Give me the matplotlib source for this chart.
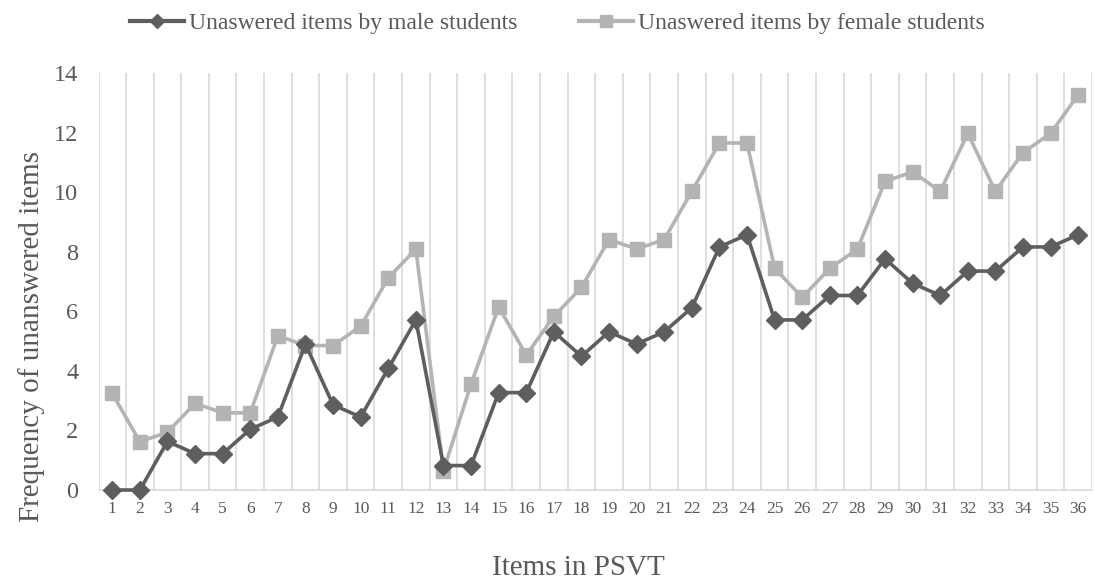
import numpy as np
import matplotlib as mpl
mpl.use("Agg")
import matplotlib.pyplot as plt
import matplotlib.lines as mlines

plt.rcParams["font.family"] = ["Liberation Serif", "DejaVu Serif"]

items = list(range(1, 37))
male = [0.00, 0.00, 1.63, 1.22, 1.22, 2.04, 2.45, 4.90, 2.86, 2.45,
        4.08, 5.71, 0.82, 0.82, 3.27, 3.27, 5.31, 4.49, 5.31, 4.90,
        5.31, 6.12, 8.16, 8.57, 5.71, 5.71, 6.53, 6.53, 7.76, 6.94,
        6.53, 7.35, 7.35, 8.16, 8.16, 8.57]
female = [3.24, 1.62, 1.94, 2.91, 2.59, 2.59, 5.18, 4.85, 4.85, 5.50,
          7.12, 8.09, 0.65, 3.56, 6.15, 4.53, 5.83, 6.80, 8.41, 8.09,
          8.41, 10.03, 11.65, 11.65, 7.44, 6.47, 7.44, 8.09, 10.36, 10.68,
          10.03, 11.97, 10.03, 11.33, 11.97, 13.27]

C_MALE = "#5e5e5e"
C_FEM = "#b4b4b4"
C_GRID = "#d9d9d9"
C_TXT = "#595959"

W, H = 1094, 586
fig = plt.figure(figsize=(W / 100, H / 100), dpi=100)
ax = fig.add_axes([98.5 / W, 1 - 490 / H, (1092 - 98.5) / W, (490 - 73) / H])

# category gridlines between items
for b in np.arange(0.5, 37, 1):
    ax.axvline(b, color=C_GRID, lw=1.2, zorder=0)

ax.plot(items, female, "-s", color=C_FEM, lw=2.6, ms=10.5, zorder=2, clip_on=False)
ax.plot(items, male, "-D", color=C_MALE, lw=2.6, ms=9, zorder=3, clip_on=False)

ax.set_xlim(0.5, 36.5)
ax.set_ylim(0, 14)
ax.set_yticks(range(0, 15, 2))
ax.set_xticks(items)
for s in ["top", "right", "left"]:
    ax.spines[s].set_visible(False)
ax.spines["bottom"].set_color(C_GRID)
ax.spines["bottom"].set_linewidth(1.2)
ax.tick_params(axis="both", length=0, colors=C_TXT)
ax.tick_params(axis="y", labelsize=17.5, pad=14.5)
ax.tick_params(axis="x", labelsize=12.5, pad=8)

fig.text(32 / W, 1 - 337 / H, "Frequency of unanswered items", rotation=90,
         ha="center", va="center", fontsize=21, color=C_TXT)
fig.text(578 / W, 1 - 568 / H, "Items in PSVT",
         ha="center", va="center", fontsize=21, color=C_TXT)

leg = [mlines.Line2D([0], [0], color=C_MALE, marker="D", lw=3, ms=7,
                     label="Unaswered items by male students"),
       mlines.Line2D([0], [0], color=C_FEM, marker="s", lw=3, ms=9,
                     label="Unaswered items by female students")]
fig.legend(handles=leg, loc="center", bbox_to_anchor=(557 / W, 1 - 23 / H), ncol=2,
           frameon=False, fontsize=17, columnspacing=2.6, handletextpad=0.2,
           handlelength=2.3, labelcolor=C_TXT, borderpad=0)

fig.savefig("out.png", dpi=100, facecolor="white")
